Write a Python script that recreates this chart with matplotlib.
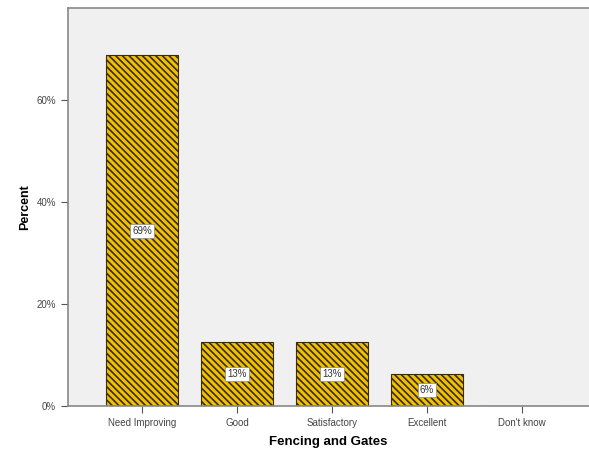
import numpy as np
import matplotlib.pyplot as plt
from matplotlib.ticker import FuncFormatter

categories = ['Need Improving', 'Good', 'Satisfactory', 'Excellent', "Don't know"]
percent = [68.75, 12.5, 12.5, 6.25, 0.0]
labels = ['69%', '13%', '13%', '6%', None]

plt.rcParams['font.family'] = ['Liberation Sans', 'DejaVu Sans']
plt.rcParams['hatch.linewidth'] = 1.2
plt.rcParams['hatch.color'] = '#3a2c05'

fig = plt.figure(figsize=(5.89, 4.5), dpi=100)
ax = fig.add_axes([0.1154, 0.098, 0.8846, 0.884])
ax.set_facecolor('#f0f0f0')

x = np.arange(len(categories))
bars = ax.bar(x, percent, width=0.76, color='#efc00a', edgecolor='#3a2c05',
              linewidth=0.8, hatch='\\' * 5)

for xi, p, lab in zip(x, percent, labels):
    if lab is None:
        continue
    ax.text(xi, p / 2, lab, ha='center', va='center', fontsize=7, color='#333333',
            bbox=dict(boxstyle='square,pad=0.2', fc='white', ec='#888888', lw=0.5))

ax.set_xlim(-0.779, 4.705)
ax.set_ylim(0, 78)
ax.set_xticks(x)
ax.set_xticklabels(categories, fontsize=7, color='#444444')
ax.set_yticks([0, 20, 40, 60])
ax.yaxis.set_major_formatter(FuncFormatter(lambda v, pos: '%d%%' % v))
ax.tick_params(axis='y', labelsize=7, labelcolor='#444444', length=5, color='#555555')
ax.tick_params(axis='x', length=5, color='#555555')

for s in ['left', 'top', 'bottom']:
    ax.spines[s].set_color('#888888')
    ax.spines[s].set_linewidth(1.2)
ax.spines['right'].set_visible(False)

ax.set_ylabel('Percent', fontsize=9, fontweight='bold', labelpad=4)
ax.set_xlabel('Fencing and Gates', fontsize=9.5, fontweight='bold', labelpad=6)

fig.savefig('out.png', dpi=100)
